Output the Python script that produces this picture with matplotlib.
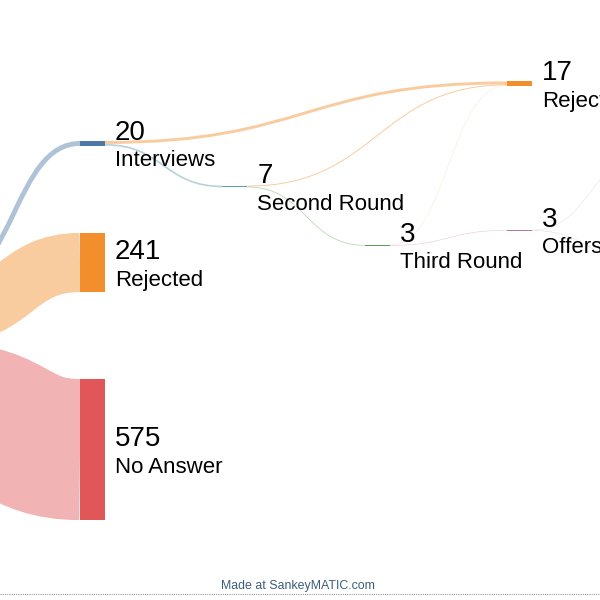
import matplotlib
matplotlib.use("Agg")
import matplotlib.pyplot as plt
from matplotlib.path import Path
from matplotlib.patches import PathPatch, Rectangle
from matplotlib.lines import Line2D

plt.rcParams['font.family'] = ['Liberation Sans', 'DejaVu Sans']

# nodes of the job search funnel
names = ["Applications", "Interviews", "Rejected", "No Answer", "Second Round",
         "Third Round", "Rejected ", "Offers", "Accepted", "Declined"]
colors = ["#4e79a7", "#4e79a7", "#f28e2b", "#e15759", "#5f9fab",
          "#59a14f", "#f28e2b", "#b07aa1", "#9c755f", "#bab0ac"]

# flows
sources = ["Applications", "Applications", "Applications", "Interviews", "Interviews",
           "Second Round", "Second Round", "Third Round", "Third Round",
           "Offers", "Offers"]
targets = ["Interviews", "Rejected", "No Answer", "Rejected ", "Second Round",
           "Rejected ", "Third Round", "Rejected ", "Offers",
           "Accepted", "Declined"]
values = [20, 241, 575, 12, 7, 4, 3, 1, 2, 1, 2]

# layout: column of each node and its top edge (in flow units)
node_col = [-0.1, 1, 1, 1, 2, 3, 4, 4, 5, 5]
node_top = [1138, 575, 950, 1546, 757, 999, 332, 938, 623, 1081]

NODE_W = 0.1756          # node width in column units
PX_PER_UNIT = 0.2452     # pixels per flow unit
DPI = 100
FLOW_ALPHA = 0.45

idx = {n: i for i, n in enumerate(names)}
inflow = [0] * len(names)
outflow = [0] * len(names)
for s, t, v in zip(sources, targets, values):
    outflow[idx[s]] += v
    inflow[idx[t]] += v
node_val = [max(a, b) for a, b in zip(inflow, outflow)]

fig = plt.figure(figsize=(6, 6), dpi=DPI)
ax = fig.add_axes([0, 0, 1, 1])
ax.set_xlim(0.4382, 4.6517)
ax.set_ylim(600 / PX_PER_UNIT, 0)
ax.axis('off')

# stack flows inside each node (outgoing sorted by target, incoming by source)
out_off = {}
in_off = {}
for i in range(len(names)):
    outs = [k for k in range(len(values)) if idx[sources[k]] == i]
    outs.sort(key=lambda k: node_top[idx[targets[k]]])
    y = node_top[i]
    for k in outs:
        out_off[k] = y + values[k] / 2
        y += values[k]
    ins = [k for k in range(len(values)) if idx[targets[k]] == i]
    ins.sort(key=lambda k: node_top[idx[sources[k]]])
    y = node_top[i]
    for k in ins:
        in_off[k] = y + values[k] / 2
        y += values[k]

for k in range(len(values)):
    si, ti = idx[sources[k]], idx[targets[k]]
    x0 = node_col[si] + NODE_W
    x1 = node_col[ti]
    xm = (x0 + x1) / 2
    y0, y1 = out_off[k], in_off[k]
    path = Path([(x0, y0), (xm, y0), (xm, y1), (x1, y1)],
                [Path.MOVETO, Path.CURVE4, Path.CURVE4, Path.CURVE4])
    lw = values[k] * PX_PER_UNIT * 72 / DPI
    ax.add_patch(PathPatch(path, facecolor='none', edgecolor=colors[ti],
                           alpha=FLOW_ALPHA, lw=lw, capstyle='butt'))

for i, n in enumerate(names):
    ax.add_patch(Rectangle((node_col[i], node_top[i]), NODE_W, node_val[i],
                           facecolor=colors[i], edgecolor='none'))
    cy = node_top[i] + node_val[i] / 2
    ax.annotate(str(node_val[i]), xy=(node_col[i] + NODE_W, cy), xytext=(7.2, 2.5),
                textcoords='offset points', fontsize=20, ha='left', va='baseline')
    ax.annotate(n.strip(), xy=(node_col[i] + NODE_W, cy), xytext=(7.2, -16.6),
                textcoords='offset points', fontsize=16, ha='left', va='baseline')

fig.text(0.497, 1 - 589 / 600, "Made at SankeyMATIC.com", ha='center', va='baseline',
         fontsize=8.9, color='#3c5d7c')
fig.add_artist(Line2D([0, 1], [1 - 594 / 600] * 2, transform=fig.transFigure,
                      color='#999999', lw=0.8, ls=(0, (1, 1))))

fig.savefig("out.png", dpi=DPI)
